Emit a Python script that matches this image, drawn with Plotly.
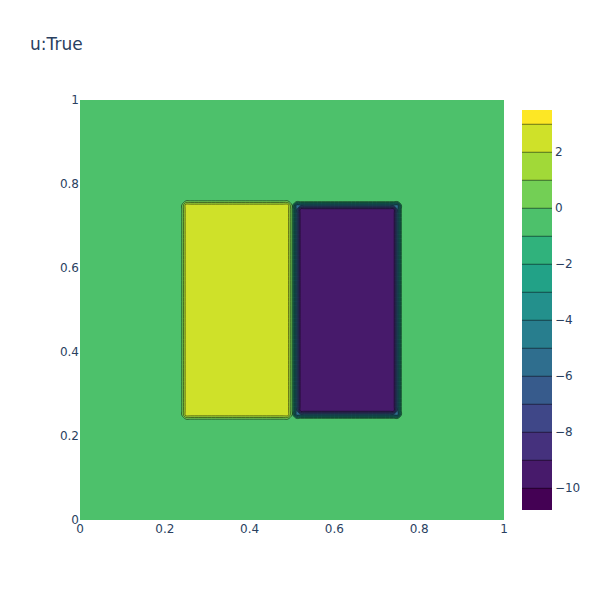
import numpy as np
import plotly.graph_objs as go

# сетка
x = np.linspace(0, 1, 101)
y = np.linspace(0, 1, 101)

# фон и два прямоугольника (x0, x1, y0, y1, значение внутри, значение на границе)
background = 0.0
rect_x0 = [0.25, 0.51]
rect_x1 = [0.49, 0.75]
rect_y0 = [0.25, 0.25]
rect_y1 = [0.75, 0.75]
rect_val = [2.5, -9.5]
rect_edge_val = [2.5, -5.0]

# диапазон цветовой шкалы
z_min = -10.8
z_max = 3.5

X, Y = np.meshgrid(x, y)
u = np.full(X.shape, background)
eps = 1e-9
for x0, x1, y0, y1, v, ve in zip(rect_x0, rect_x1, rect_y0, rect_y1, rect_val, rect_edge_val):
    mask = (X >= x0 - eps) & (X <= x1 + eps) & (Y >= y0 - eps) & (Y <= y1 + eps)
    inner = (X > x0 + eps) & (X < x1 - eps) & (Y > y0 + eps) & (Y < y1 - eps)
    u[mask] = ve
    u[inner] = v

fig = go.Figure()
fig.add_trace(
    go.Contour(
        x=x,
        y=y,
        z=u,
        colorscale="Viridis",
        zmin=z_min,
        zmax=z_max,
        contours=dict(start=-10, end=3, size=1),
    )
)
# страница сдвинута на 8px (отступ body), поэтому размер и поля подобраны вручную
W, H = 592, 592
fig.update_layout(
    title=dict(text="u:True", x=22 / W, xanchor="left", y=1 - 36 / H, yanchor="middle"),
    font=dict(family="DejaVu Sans"),
    width=W,
    height=H,
    margin=dict(l=72, r=80, t=92, b=80),
)
fig.write_html("out.html")
